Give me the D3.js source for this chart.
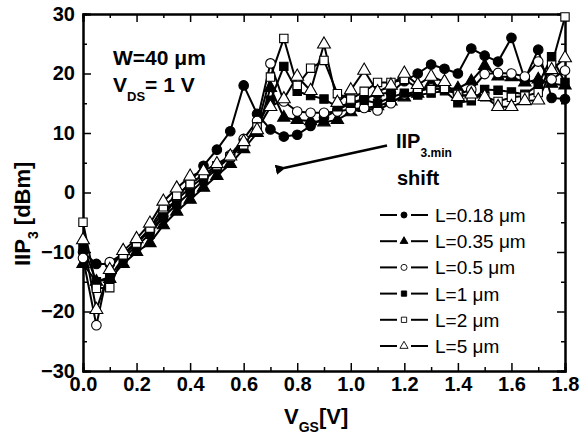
<!DOCTYPE html>
<html>
<head>
<meta charset="utf-8">
<script src="https://cdn.jsdelivr.net/npm/d3@7"></script>
<style>
  body { margin: 0; background: #fff; }
  svg { display: block; }
  text { font-family: "Liberation Sans", Arial, sans-serif; fill: #000; }
</style>
</head>
<body>
<svg id="chart" width="581" height="445"></svg>
<script>
// gate voltage sweep (V)
const vgs = [0, 0.05, 0.1, 0.15, 0.2, 0.25, 0.3, 0.35, 0.4, 0.45, 0.5, 0.55, 0.6, 0.65,
  0.7, 0.75, 0.8, 0.85, 0.9, 0.95, 1.0, 1.05, 1.1, 1.15, 1.2, 1.25, 1.3, 1.35, 1.4,
  1.45, 1.5, 1.55, 1.6, 1.65, 1.7, 1.75, 1.8];

// IIP3 (dBm) for each gate length
const iipL018 = [-10, -12, -12, -10.5, -8.5, -6.5, -4, -1, 1.8, 4.5, 7.2, 10.3, 18, 13.2,
  10.6, 9.4, 9.7, 11.2, 12.6, 13.9, 15, 15.8, 16.5, 16.8, 18.7, 20, 21.5, 20.8, 20,
  24.2, 23, 22, 26, 19, 24, 15.9, 15.7];
const iipL035 = [-12, -15, -14.5, -12, -10, -8.5, -5.5, -3.2, -1.2, 0.8, 2.8, 4.8, 7.3, 10,
  17.6, 12.6, 12.2, 12, 11.8, 12.2, 13.5, 14.2, 14.5, 15.3, 16, 16.6, 18.4, 17.5, 17.5,
  18.7, 21.3, 19.5, 19.4, 18.5, 19, 18.3, 18];
const iipL05 = [-11, -22.3, -11.7, -10.3, -8.3, -6.3, -3.2, -1.2, 0.8, 2.6, 4.2, 6.3, 9, 12,
  21.7, 15.3, 13.6, 13.4, 13.4, 13.6, 14, 14.2, 13.8, 15, 16.5, 17, 17.5, 17.4, 16.5,
  17.3, 19.9, 20.1, 20, 19.5, 22, 19, 20.5];
const iipL1 = [-9, -15, -14.2, -11, -9, -7, -4.1, -2, 0, 2, 4, 6, 8.3, 11,
  15.5, 21.2, 17, 16.3, 15.7, 14.4, 15, 15.5, 15, 16, 16.7, 16.4, 16.7, 17.1, 15.1,
  15.4, 17.3, 17.2, 16.9, 16.5, 18.1, 22.8, 18.5];
const iipL2 = [-5, -16.1, -16, -10.5, -8.5, -6, -2.4, -0.5, 1.5, 3, 4.5, 6, 8, 11,
  19.4, 25.9, 18, 20.9, 22.2, 16.6, 15.7, 17, 18.5, 18.5, 19, 17.5, 17.3, 17.5, 16.5,
  16.1, 16.1, 15.3, 16, 16.2, 16.8, 21.4, 29.5];
const iipL5 = [-8, -19.7, -13, -9.8, -7.8, -5.2, -1.5, 0.7, 2.7, 3.6, 4.8, 6.1, 8.5, 10.5,
  14.4, 15.7, 19.5, 17.1, 24.9, 15.1, 17.2, 20.5, 16.9, 18, 20, 18.1, 19.5, 18.6, 16.1,
  16.5, 16.1, 14.4, 14.4, 15.4, 15.5, 20.6, 22.6];

const seriesNames = ["L=0.18 \u03bcm", "L=0.35 \u03bcm", "L=0.5 \u03bcm", "L=1 \u03bcm", "L=2 \u03bcm", "L=5 \u03bcm"];
const seriesValues = [iipL018, iipL035, iipL05, iipL1, iipL2, iipL5];

const xTicks = [0, 0.2, 0.4, 0.6, 0.8, 1.0, 1.2, 1.4, 1.6, 1.8];
const xMinor = [0.1, 0.3, 0.5, 0.7, 0.9, 1.1, 1.3, 1.5, 1.7];
const yTicks = [-30, -20, -10, 0, 10, 20, 30];
const yMinor = [-25, -15, -5, 5, 15, 25];

// marker look per series: shape + filled or open
const shapes = [
  { type: d3.symbolCircle, size: 72, fill: "#000" },
  { type: d3.symbolTriangle, size: 66, fill: "#000" },
  { type: d3.symbolCircle, size: 72, fill: "#fff" },
  { type: d3.symbolSquare, size: 70, fill: "#000" },
  { type: d3.symbolSquare, size: 70, fill: "#fff" },
  { type: d3.symbolTriangle, size: 72, fill: "#fff" }
];

const margin = { top: 14, right: 16, bottom: 74, left: 83 };
const width = 581 - margin.left - margin.right;
const height = 445 - margin.top - margin.bottom;

const svg = d3.select("#chart");
const g = svg.append("g").attr("transform", `translate(${margin.left},${margin.top})`);

const x = d3.scaleLinear().domain([0, 1.8]).range([0, width]);
const y = d3.scaleLinear().domain([-30, 30]).range([height, 0]);

// axes (ticks pointing inward)
const tickFont = g => g.selectAll("text")
  .style("font-size", "20px").style("font-weight", "bold");

g.append("g").attr("transform", `translate(0,${height})`)
  .call(d3.axisBottom(x).tickValues(xTicks).tickFormat(d3.format(".1f")).tickSize(-8).tickPadding(6))
  .call(tickFont);
g.append("g").attr("transform", `translate(0,${height})`)
  .call(d3.axisBottom(x).tickValues(xMinor).tickFormat("").tickSize(-4));
g.append("g")
  .call(d3.axisTop(x).tickValues(xTicks).tickFormat("").tickSize(-8));
g.append("g")
  .call(d3.axisTop(x).tickValues(xMinor).tickFormat("").tickSize(-4));

g.append("g")
  .call(d3.axisLeft(y).tickValues(yTicks).tickFormat(d3.format("d")).tickSize(-8).tickPadding(8))
  .call(tickFont);
g.append("g")
  .call(d3.axisLeft(y).tickValues(yMinor).tickFormat("").tickSize(-4));
g.append("g").attr("transform", `translate(${width},0)`)
  .call(d3.axisRight(y).tickValues(yTicks).tickFormat("").tickSize(-8));
g.append("g").attr("transform", `translate(${width},0)`)
  .call(d3.axisRight(y).tickValues(yMinor).tickFormat("").tickSize(-4));

g.selectAll(".domain").attr("stroke-width", 2);
g.selectAll(".tick line").attr("stroke-width", 1.5);
g.selectAll(".tick text").attr("fill", "#000");

// series
const line = d3.line().x((d, i) => x(vgs[i])).y(d => y(d));

seriesValues.forEach((vals, k) => {
  g.append("path")
    .datum(vals)
    .attr("fill", "none")
    .attr("stroke", "#000")
    .attr("stroke-width", 2)
    .attr("d", line);
});

seriesValues.forEach((vals, k) => {
  const s = shapes[k];
  g.append("g").selectAll("path")
    .data(vals)
    .join("path")
    .attr("transform", (d, i) => `translate(${x(vgs[i])},${y(d)})`)
    .attr("d", d3.symbol().type(s.type).size(s.size))
    .attr("fill", s.fill)
    .attr("stroke", "#000")
    .attr("stroke-width", 1.1);
});

// legend
const legend = svg.append("g").attr("transform", "translate(380,215)");
seriesNames.forEach((name, k) => {
  const row = legend.append("g").attr("transform", `translate(0,${k * 26.2})`);
  row.append("line").attr("x1", 0).attr("x2", 17).attr("stroke", "#000").attr("stroke-width", 2);
  row.append("line").attr("x1", 31).attr("x2", 48).attr("stroke", "#000").attr("stroke-width", 2);
  row.append("path")
    .attr("transform", "translate(24,0)")
    .attr("d", d3.symbol().type(shapes[k].type).size(shapes[k].size * 0.4))
    .attr("fill", shapes[k].fill)
    .attr("stroke", "#000")
    .attr("stroke-width", 0.9);
  row.append("text")
    .attr("x", 55).attr("y", 7)
    .style("font-size", "19px")
    .text(name);
});

// annotations
svg.append("text").attr("x", 113).attr("y", 65)
  .style("font-size", "21px").style("font-weight", "bold")
  .text("W=40 \u03bcm");

const vds = svg.append("text").attr("x", 113).attr("y", 92)
  .style("font-size", "21px").style("font-weight", "bold");
vds.append("tspan").text("V");
vds.append("tspan").attr("dy", 9).style("font-size", "13px").text("DS");
vds.append("tspan").attr("dy", -9).text("= 1 V");

const iipNote = svg.append("text").attr("x", 396).attr("y", 148)
  .style("font-size", "20px").style("font-weight", "bold");
iipNote.append("tspan").text("IIP");
iipNote.append("tspan").attr("dy", 9).style("font-size", "12px").text("3.min");

svg.append("text").attr("x", 397).attr("y", 185)
  .style("font-size", "20px").style("font-weight", "bold")
  .text("shift");

// arrow
svg.append("defs").append("marker")
  .attr("id", "head")
  .attr("viewBox", "0 0 10 10")
  .attr("refX", 2).attr("refY", 5)
  .attr("markerWidth", 4).attr("markerHeight", 4)
  .attr("orient", "auto")
  .append("path").attr("d", "M10,0 L0,5 L10,10 Z").attr("fill", "#000");

svg.append("line")
  .attr("x1", 387).attr("y1", 145.5)
  .attr("x2", 284).attr("y2", 168)
  .attr("stroke", "#000").attr("stroke-width", 2.6)
  .attr("marker-end", "url(#head)");

// axis titles
const xTitle = svg.append("text")
  .attr("x", 284).attr("y", 424)
  .style("font-size", "22px").style("font-weight", "bold");
xTitle.append("tspan").text("V");
xTitle.append("tspan").attr("dy", 8).style("font-size", "14px").text("GS");
xTitle.append("tspan").attr("dy", -8).text("[V]");

const yTitle = svg.append("text")
  .attr("transform", "translate(30,266) rotate(-90)")
  .style("font-size", "22px").style("font-weight", "bold");
yTitle.append("tspan").text("IIP");
yTitle.append("tspan").attr("dy", 8).style("font-size", "14px").text("3");
yTitle.append("tspan").attr("dy", -8).text(" [dBm]");
</script>
</body>
</html>
